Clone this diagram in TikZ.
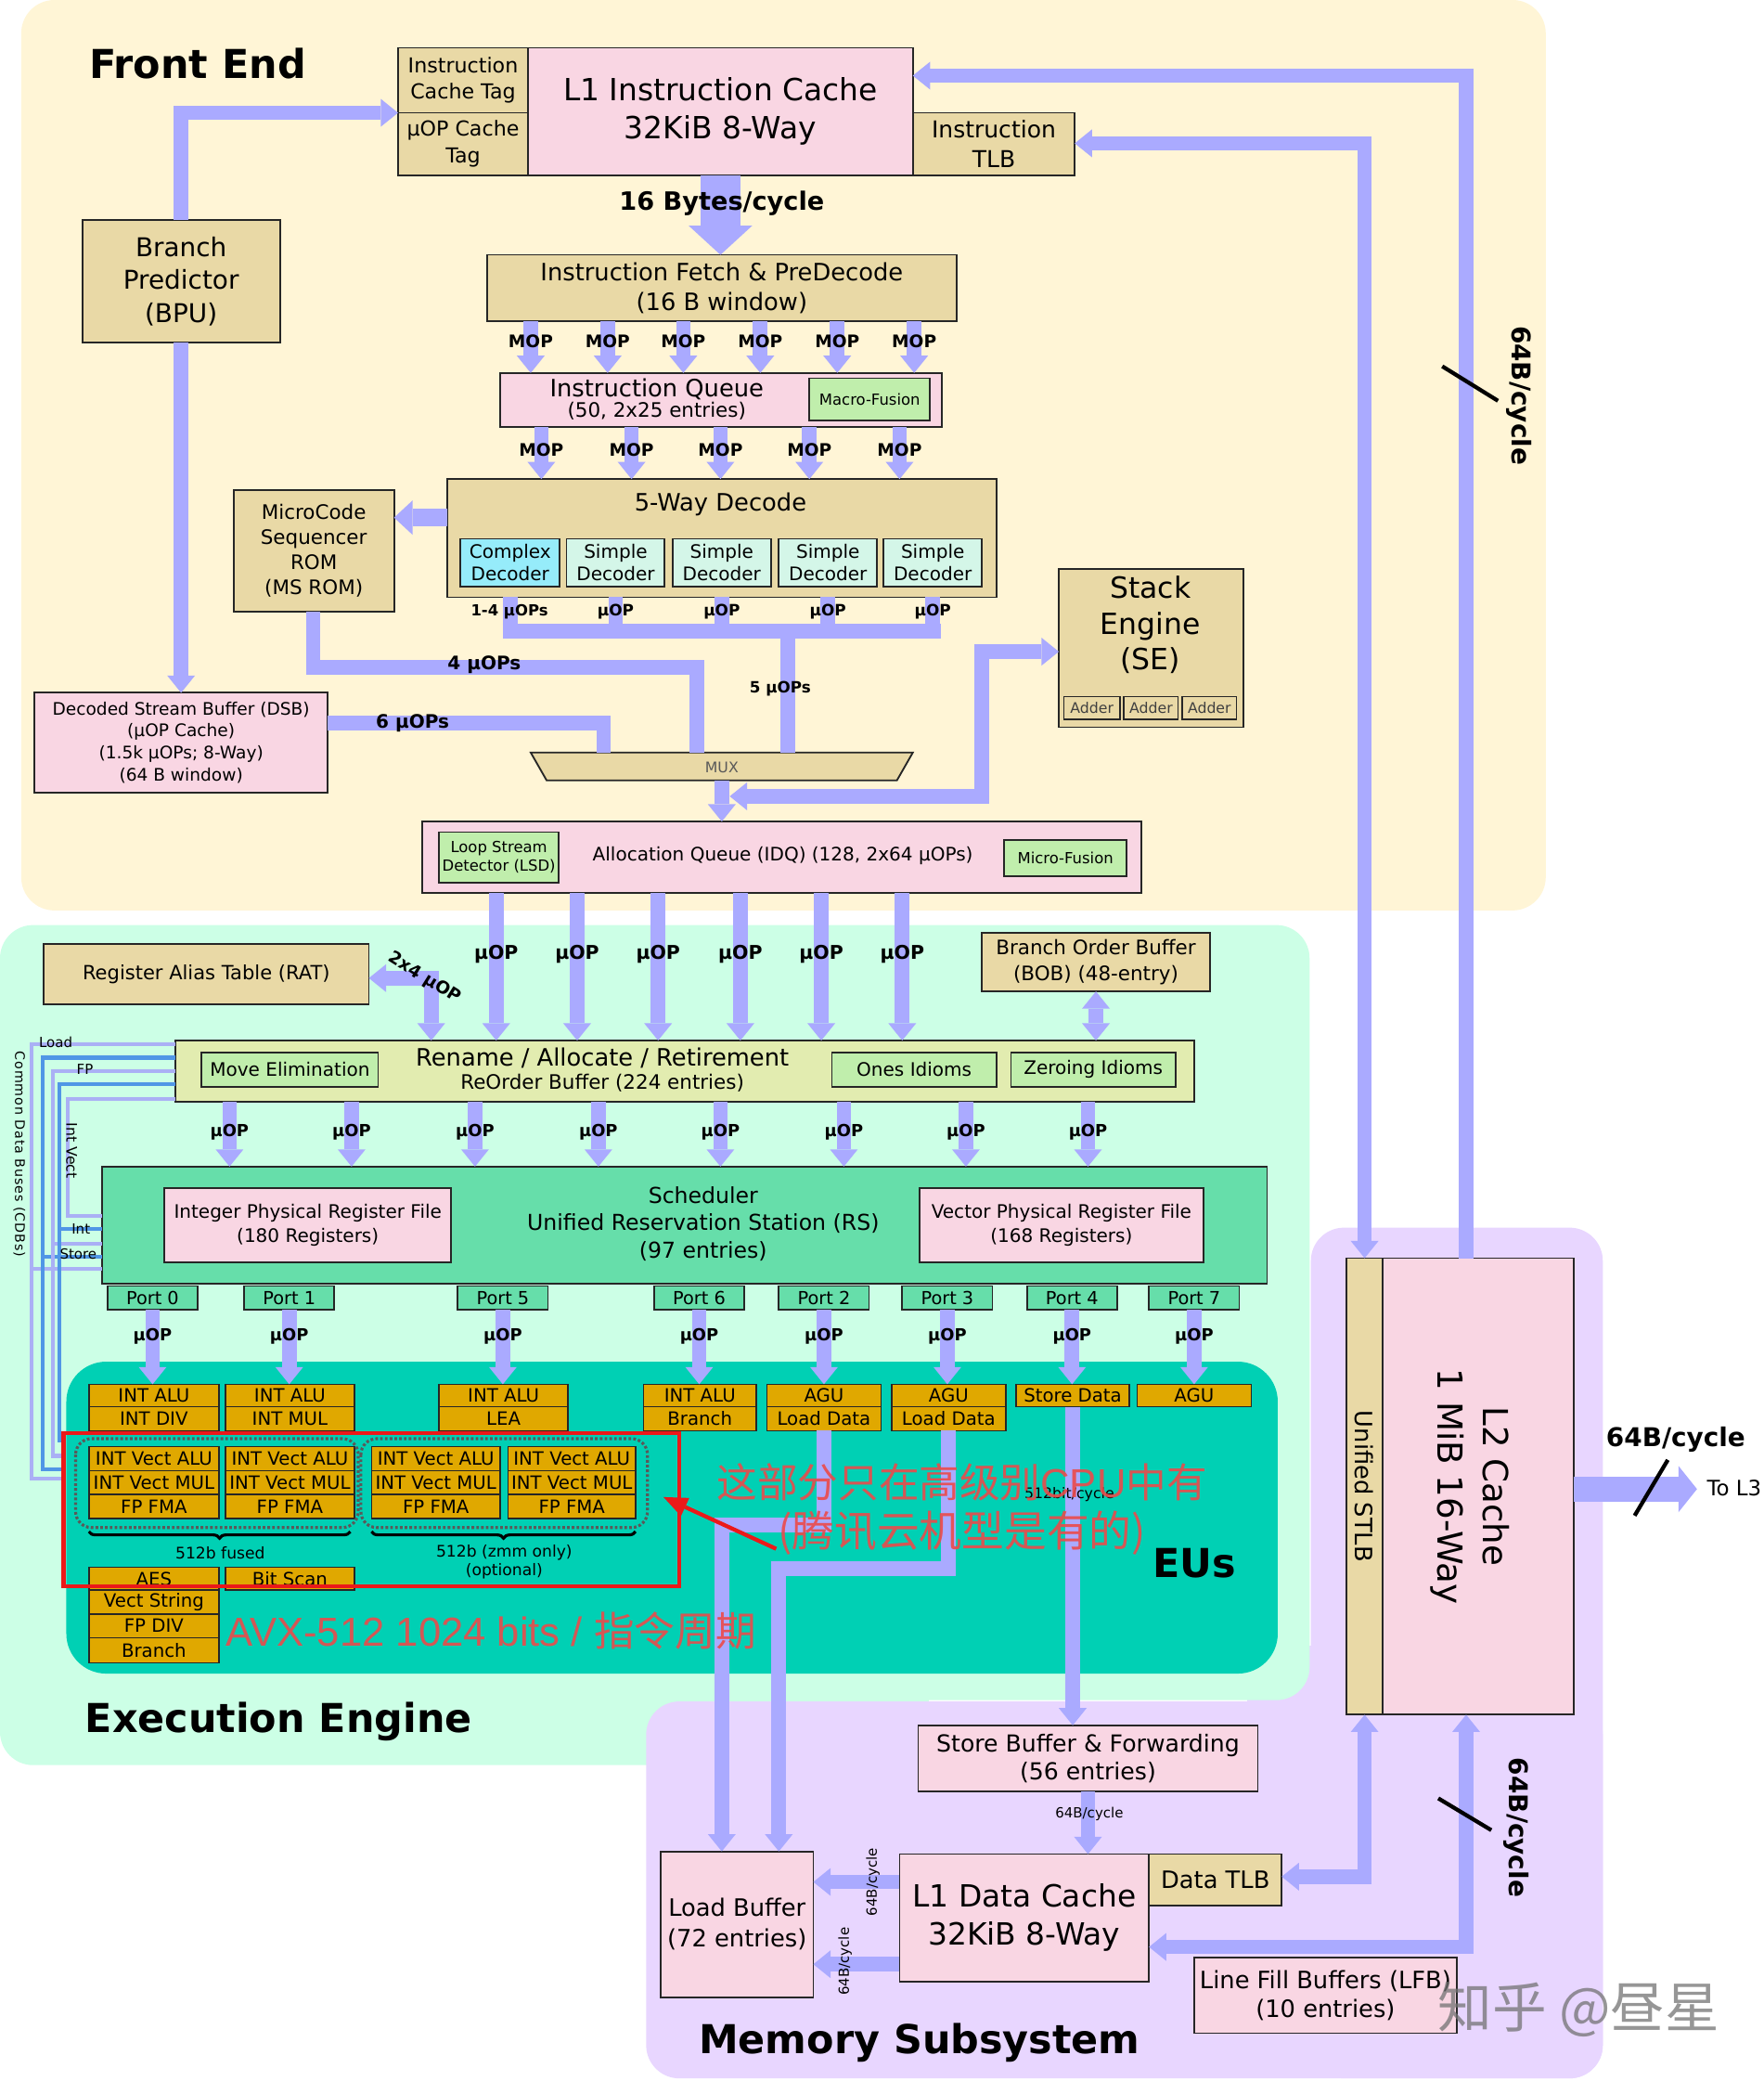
\documentclass[tikz,border=0pt]{standalone}
\usepackage{fontspec}
\setmainfont{DejaVu Sans}
\newfontfamily\cjkf{Noto Sans CJK SC}
\newfontfamily\arialf{Liberation Sans}
\usetikzlibrary{arrows.meta,decorations.pathreplacing,calc}
\definecolor{febg}{RGB}{255,245,214}
\definecolor{exbg}{RGB}{204,255,230}
\definecolor{membg}{RGB}{232,214,255}
\definecolor{tanb}{RGB}{233,217,166}
\definecolor{pinkb}{RGB}{249,214,227}
\definecolor{lgreen}{RGB}{192,238,172}
\definecolor{cyanb}{RGB}{150,236,250}
\definecolor{mint}{RGB}{212,246,232}
\definecolor{robc}{RGB}{226,236,176}
\definecolor{schc}{RGB}{102,222,170}
\definecolor{euteal}{RGB}{0,208,180}
\definecolor{gold}{RGB}{224,168,0}
\definecolor{arrowc}{RGB}{170,170,255}
\definecolor{cdbl}{RGB}{170,176,245}
\definecolor{cdbb}{RGB}{80,150,230}
\definecolor{redb}{RGB}{235,25,25}
\definecolor{redt}{RGB}{236,74,74}
\newcommand\FS[2]{\fontsize{#1}{#2}\selectfont}
\newcommand\RB[7]{\node[#6, minimum width={(#4-#2)*1pt}, minimum height={(#5-#3)*1pt}, anchor=north west] (#1) at (#2,#3) {#7};}
\tikzset{
  tipA/.tip={Triangle[width=21pt,length=13pt,line width=0pt]},
  tipB/.tip={Triangle[width=48pt,length=22pt,line width=0pt]},
  tipC/.tip={Triangle[width=35pt,length=14pt,line width=0pt]},
  tipD/.tip={Triangle[width=26pt,length=14pt,line width=0pt]},
  tipR/.tip={Triangle[width=15pt,length=18pt,line width=0pt]},
}
\begin{document}
\begin{tikzpicture}[x=1pt,y=-1pt,
  box/.style={draw=black!85, line width=1.3pt, inner sep=0pt, outer sep=0pt, align=center},
  lbl/.style={inner sep=0pt, outer sep=0pt, align=center},
  flow/.style={draw=arrowc, line width=11pt},
  arr/.style={flow, -tipA},
  dbl/.style={flow, tipA-tipA},
  mop/.style={lbl, font=\FS{13}{15}\bfseries},
  uop/.style={lbl, font=\FS{12.5}{15}\bfseries},
  eu/.style={box, fill=gold, line width=1.1pt, font=\FS{13.8}{16}},
  cdbL/.style={draw=cdbl, line width=3pt},
  cdbB/.style={draw=cdbb, line width=3pt},
  title/.style={lbl, font=\FS{30}{36}\bfseries},
]
\useasboundingbox (0,0) rectangle (1329,1568);
% ---------------- backgrounds
\fill[febg, rounded corners=25pt] (16,0) rectangle (1165,686);
\fill[membg] (940,1240) rectangle (1000,1300);
\fill[exbg, rounded corners=25pt] (0,697) rectangle (987,1281);
\fill[exbg, rounded corners=25pt] (0,1000) rectangle (700,1330);
\fill[membg, rounded corners=25pt] (988,925) rectangle (1208,1566);
\fill[membg, rounded corners=25pt] (487,1282) rectangle (1208,1566);
\fill[euteal, rounded corners=30pt] (50,1026) rectangle (963,1261);

% ---------------- front end
\node[title] (tfe) at (149,48) {Front End};
\RB{ict}{300}{36}{398}{85}{box, fill=tanb, font=\FS{15.5}{20}}{Instruction\\Cache Tag}
\RB{uct}{300}{85}{398}{132}{box, fill=tanb, font=\FS{15.5}{20}}{µOP Cache\\Tag}
\RB{l1i}{398}{36}{688}{132}{box, fill=pinkb, font=\FS{23}{29}}{L1 Instruction Cache\\32KiB 8-Way}
\RB{itlb}{688}{85}{810}{132}{box, fill=tanb, font=\FS{17.5}{22}}{Instruction\\TLB}
\RB{bpu}{62}{166}{211}{258}{box, fill=tanb, font=\FS{19.5}{25}}{Branch\\Predictor\\(BPU)}
\RB{ifd}{367}{192}{721}{242}{box, fill=tanb, font=\FS{18}{22}}{Instruction Fetch \& PreDecode\\(16 B window)}
\RB{iq}{377}{281}{710}{322}{box, fill=pinkb}{}
\node[lbl, font=\FS{18}{20}] (iqt1) at (495,293) {Instruction Queue};
\node[lbl, font=\FS{15}{18}] (iqt2) at (495,310) {(50, 2x25 entries)};
\RB{mf}{610}{285}{701}{317}{box, fill=lgreen, font=\FS{11.5}{14}}{Macro-Fusion}
\RB{dec}{337}{361}{751}{450}{box, fill=tanb}{}
\node[lbl, font=\FS{18}{22}] (dect) at (543,380) {5-Way Decode};
\RB{cd}{347}{406}{422}{442}{box, fill=cyanb, font=\FS{14}{17}}{Complex\\Decoder}
\RB{sd1}{427}{406}{501}{442}{box, fill=mint, font=\FS{14}{17}}{Simple\\Decoder}
\RB{sd2}{507}{406}{581}{442}{box, fill=mint, font=\FS{14}{17}}{Simple\\Decoder}
\RB{sd3}{587}{406}{661}{442}{box, fill=mint, font=\FS{14}{17}}{Simple\\Decoder}
\RB{sd4}{666}{406}{740}{442}{box, fill=mint, font=\FS{14}{17}}{Simple\\Decoder}
\RB{ms}{176}{369}{297}{461}{box, fill=tanb, font=\FS{15}{19}}{MicroCode\\Sequencer\\ROM\\(MS ROM)}
\RB{dsb}{26}{522}{247}{597}{box, fill=pinkb, font=\FS{13}{16.7}}{Decoded Stream Buffer (DSB)\\(µOP Cache)\\(1.5k µOPs; 8-Way)\\(64 B window)}
\draw[draw=black!85, line width=1.3pt, fill=tanb] (400,567) -- (688,567) -- (676,588) -- (412,588) -- cycle;
\node[lbl, font=\FS{11}{13}, text=black!65] (mux) at (544,578) {MUX};
\coordinate (muxT) at (544,567);
\coordinate (muxB) at (544,588);
\RB{se}{798}{429}{937}{548}{box, fill=tanb}{}
\node[lbl, font=\FS{22}{27}] (set) at (867,471) {Stack\\Engine\\(SE)};
\RB{ad1}{802}{525}{844}{542}{box, fill=tanb, line width=1pt, font=\FS{11}{13}, text=black!75}{Adder}
\RB{ad2}{847}{525}{888}{542}{box, fill=tanb, line width=1pt, font=\FS{11}{13}, text=black!75}{Adder}
\RB{ad3}{891}{525}{932}{542}{box, fill=tanb, line width=1pt, font=\FS{11}{13}, text=black!75}{Adder}
\RB{idq}{318}{619}{860}{673}{box, fill=pinkb}{}
\node[lbl, font=\FS{14}{17}] (idqt) at (590,645) {Allocation Queue (IDQ) (128, 2x64 µOPs)};
\RB{lsd}{331}{627}{421}{665}{box, fill=lgreen, font=\FS{11.5}{14}}{Loop Stream\\Detector (LSD)}
\RB{mfu}{757}{633}{849}{660}{box, fill=lgreen, font=\FS{11.5}{14}}{Micro-Fusion}

% ---------------- execution engine
\node[title] (tee) at (210,1297) {Execution Engine};
\RB{rat}{33}{711}{278}{757}{box, fill=tanb, font=\FS{14.7}{18}}{Register Alias Table (RAT)}
\RB{bob}{740}{703}{912}{747}{box, fill=tanb, font=\FS{15}{19}}{Branch Order Buffer\\(BOB) (48-entry)}
\RB{rob}{132}{784}{900}{830}{box, fill=robc}{}
\node[lbl, font=\FS{18}{22}] (robt1) at (454,797) {Rename / Allocate / Retirement};
\node[lbl, font=\FS{15}{18}] (robt2) at (454,816) {ReOrder Buffer (224 entries)};
\RB{me}{152}{793}{285}{819}{box, fill=lgreen, font=\FS{14}{17}}{Move Elimination}
\RB{oi}{627}{793}{751}{819}{box, fill=lgreen, font=\FS{14}{17}}{Ones Idioms}
\RB{zi}{762}{793}{886}{819}{box, fill=lgreen, font=\FS{14}{17}}{Zeroing Idioms}
\RB{rs}{77}{879}{955}{967}{box, fill=schc}{}
\node[lbl, font=\FS{16.5}{20.5}] (rst) at (530,922) {Scheduler\\Unified Reservation Station (RS)\\(97 entries)};
\RB{iprf}{124}{895}{340}{951}{box, fill=pinkb, font=\FS{14}{18}}{Integer Physical Register File\\(180 Registers)}
\RB{vprf}{693}{895}{907}{951}{box, fill=pinkb, font=\FS{14}{18}}{Vector Physical Register File\\(168 Registers)}
\RB{p0}{81}{969}{149}{987}{box, fill=schc, font=\FS{13.5}{16}}{Port 0}
\RB{p1}{184}{969}{252}{987}{box, fill=schc, font=\FS{13.5}{16}}{Port 1}
\RB{p5}{345}{969}{413}{987}{box, fill=schc, font=\FS{13.5}{16}}{Port 5}
\RB{p6}{493}{969}{561}{987}{box, fill=schc, font=\FS{13.5}{16}}{Port 6}
\RB{p2}{587}{969}{655}{987}{box, fill=schc, font=\FS{13.5}{16}}{Port 2}
\RB{p3}{680}{969}{748}{987}{box, fill=schc, font=\FS{13.5}{16}}{Port 3}
\RB{p4}{774}{969}{842}{987}{box, fill=schc, font=\FS{13.5}{16}}{Port 4}
\RB{p7}{866}{969}{934}{987}{box, fill=schc, font=\FS{13.5}{16}}{Port 7}
% execution units
\RB{a0}{67}{1043}{165}{1060}{eu}{INT ALU}
\RB{b0}{67}{1060}{165}{1078}{eu}{INT DIV}
\RB{a1}{170}{1043}{267}{1060}{eu}{INT ALU}
\RB{b1}{170}{1060}{267}{1078}{eu}{INT MUL}
\RB{a5}{331}{1043}{428}{1060}{eu}{INT ALU}
\RB{b5}{331}{1060}{428}{1078}{eu}{LEA}
\RB{a6}{485}{1043}{570}{1060}{eu}{INT ALU}
\RB{b6}{485}{1060}{570}{1078}{eu}{Branch}
\RB{a2}{578}{1043}{664}{1060}{eu}{AGU}
\RB{b2}{578}{1060}{664}{1078}{eu}{Load Data}
\RB{a3}{672}{1043}{758}{1060}{eu}{AGU}
\RB{b3}{672}{1060}{758}{1078}{eu}{Load Data}
\RB{a4}{766}{1043}{851}{1060}{eu}{Store Data}
\RB{a7}{857}{1043}{943}{1060}{eu}{AGU}
\foreach \c/\xa/\xb in {1/67/165, 2/170/267, 3/280/377, 4/383/479}{
  \RB{va\c}{\xa}{1090}{\xb}{1108}{eu}{INT Vect ALU}
  \RB{vm\c}{\xa}{1108}{\xb}{1126}{eu}{INT Vect MUL}
  \RB{vf\c}{\xa}{1126}{\xb}{1144}{eu}{FP FMA}
}
\RB{aes}{67}{1181}{165}{1198}{eu}{AES}
\RB{vs}{67}{1198}{165}{1216}{eu}{Vect String}
\RB{fdiv}{67}{1216}{165}{1234}{eu}{FP DIV}
\RB{br0}{67}{1234}{165}{1253}{eu}{Branch}
\RB{bs}{170}{1181}{267}{1198}{eu}{Bit Scan}
\draw[black!65, line width=2.2pt, dash pattern=on 2pt off 1.6pt, rounded corners=12pt] (57,1084) rectangle (270,1151);
\draw[black!65, line width=2.2pt, dash pattern=on 2pt off 1.6pt, rounded corners=12pt] (272,1084) rectangle (488,1151);
\draw[decorate, decoration={brace, mirror, amplitude=5pt}, line width=2.2pt] (67,1154) -- (264,1154);
\draw[decorate, decoration={brace, mirror, amplitude=5pt}, line width=2.2pt] (280,1154) -- (479,1154);
\node[lbl, font=\FS{12}{14}] (f512) at (166,1170) {512b fused};
\node[lbl, font=\FS{12}{14}] (z512) at (380,1177) {512b (zmm only)\\(optional)};
\node[lbl, font=\FS{30}{36}\bfseries] (teus) at (900,1178) {EUs};

% ---------------- memory subsystem
\node[title] (tms) at (693,1539) {Memory Subsystem};
\RB{sb}{692}{1300}{948}{1350}{box, fill=pinkb, font=\FS{17.6}{21}}{Store Buffer \& Forwarding\\(56 entries)}
\RB{lb}{498}{1395}{613}{1505}{box, fill=pinkb, font=\FS{18}{23}}{Load Buffer\\(72 entries)}
\RB{l1d}{678}{1397}{866}{1493}{box, fill=pinkb, font=\FS{23}{29}}{L1 Data Cache\\32KiB 8-Way}
\RB{dtlb}{866}{1397}{966}{1436}{box, fill=tanb, font=\FS{18}{22}}{Data TLB}
\RB{lfb}{900}{1475}{1098}{1532}{box, fill=pinkb, font=\FS{18}{22}}{Line Fill Buffers (LFB)\\(10 entries)}
\RB{stlb}{1015}{948}{1042}{1292}{box, fill=tanb}{}
\node[lbl, rotate=-90, font=\FS{18}{22}] (stlbt) at (1028,1120) {Unified STLB};
\RB{l2}{1042}{948}{1186}{1292}{box, fill=pinkb}{}
\node[lbl, rotate=-90, font=\FS{26}{34}] (l2t) at (1108,1120) {L2 Cache\\1 MiB 16-Way};
\coordinate (tol3) at (1279,1122);

% ---------------- connectors: front end
\draw[arr] (bpu.north) |- (ict.south west);
\draw[arr] (bpu.south) -- (bpu.south |- dsb.north);
\draw[draw=arrowc, line width=30pt, -tipB] (l1i.south) -- (l1i.south |- ifd.north);
\foreach \x in {400,458,515,573,631,689}{\draw[arr] (\x,0 |- ifd.south) -- (\x,0 |- iq.north);}
\foreach \x in {408,476,543,610,678}{\draw[arr] (\x,0 |- iq.south) -- (\x,0 |- dec.north);}
\draw[draw=arrowc, line width=13pt, -tipD] (dec.west |- 0,390) -- (ms.east |- 0,390);
\foreach \n in {cd,sd1,sd2,sd3,sd4}{\draw[flow] (\n.south |- dec.south) -- (\n.south |- 0,481);}
\draw[flow] (379,475.5) -- (709,475.5);
\draw[flow] (594,475) -- (594,0 |- muxT);
\draw[flow] (236,0 |- ms.south) |- (525,503) -- (525,0 |- muxT);
\draw[flow] (dsb.east |- 0,545) -| (455,0 |- muxT);
\draw[arr] (muxB) -- (muxB |- idq.north);
\coordinate (seJ) at (550,600);
\draw[dbl] (seJ) -| (740,491) -- (se.west |- 0,491);
\draw[arr] (1105,0 |- l2.north) |- (l1i.east |- 0,57);
\draw[dbl] (itlb.east |- 0,108) -| (stlb.north);
% ---------------- connectors: execution engine
\foreach \x in {374,435,496,558,619,680}{\draw[arr] (\x,0 |- idq.south) -- (\x,0 |- rob.north);}
\draw[dbl] (bob.south) -- (bob.south |- rob.north);
\draw[dbl] (rat.east |- 0,737) -| (325,0 |- rob.north);
\foreach \x in {173,265,358,451,543,636,728,820}{\draw[arr] (\x,0 |- rob.south) -- (\x,0 |- rs.north);}
\foreach \p/\e in {p0/a0,p1/a1,p5/a5,p6/a6,p2/a2,p3/a3,p4/a4,p7/a7}{\draw[arr] (\p.south) -- (\p.south |- \e.north);}
\draw[arr] (b2.south) |- (544,1149) -- (544,0 |- lb.north);
\draw[arr] (b3.south) |- (587,1182) -- (587,0 |- lb.north);
\draw[arr] (a4.south) -- (a4.south |- sb.north);
% common data buses
\draw[cdbL] (rob.west |- 0,787) -| (24,1114) -- (50,1114);
\draw[cdbL] (24,956) -- (rs.west |- 0,956);
\draw[cdbB] (rob.west |- 0,797) -| (32,1107) -- (50,1107);
\draw[cdbB] (32,947) -- (rs.west |- 0,947);
\draw[cdbL] (rob.west |- 0,807) -| (40,1097) -- (50,1097);
\draw[cdbL] (40,937) -- (rs.west |- 0,937);
\draw[cdbB] (rob.west |- 0,817) -| (45,1085) -- (50,1085);
\draw[cdbB] (45,926) -- (rs.west |- 0,926);
\draw[cdbL] (rob.west |- 0,828) -| (51,916) -- (rs.west |- 0,916);
% ---------------- connectors: memory
\draw[arr] (sb.south) -- (sb.south |- l1d.north);
\draw[arr] (l1d.west |- 0,1418) -- (lb.east |- 0,1418);
\draw[arr] (l1d.west |- 0,1480) -- (lb.east |- 0,1480);
\draw[dbl] (dtlb.east |- 0,1414) -| (stlb.south);
\draw[dbl] (l1d.east |- 0,1467) -| (1105,0 |- l2.south);
\draw[draw=arrowc, line width=19pt, -tipC] (l2.east |- tol3) -- (tol3);

% ---------------- labels on connectors
\node[lbl, font=\FS{19}{22}\bfseries] at (544,153) {16 Bytes/cycle};
\foreach \x in {400,458,515,573,631,689}{\node[mop] at (\x,257) {MOP};}
\foreach \x in {408,476,543,610,678}{\node[mop] at (\x,339) {MOP};}
\node[lbl, font=\FS{11.5}{14}\bfseries] at (384,461) {1-4 µOPs};
\foreach \x in {464,544,624,703}{\node[lbl, font=\FS{11.8}{14}\bfseries] at (\x,461) {µOP};}
\node[lbl, font=\FS{14}{17}\bfseries] at (365,501) {4 µOPs};
\node[lbl, font=\FS{14}{17}\bfseries] at (311,545) {6 µOPs};
\node[lbl, font=\FS{11.7}{14}\bfseries] at (588,519) {5 µOPs};
\node[lbl, rotate=-90, font=\FS{19.5}{22}\bfseries] at (1145,298) {64B/cycle};
\draw[line width=3pt] (1087,276) -- (1129,302);
\foreach \x in {374,435,496,558,619,680}{\node[lbl, font=\FS{14.3}{17}\bfseries] at (\x,719) {µOP};}
\node[lbl, rotate=-32, font=\FS{13}{15}\bfseries] at (320,737) {2x4 µOP};
\foreach \x in {173,265,358,451,543,636,728,820}{\node[uop] at (\x,853) {µOP};}
\foreach \p in {p0,p1,p5,p6,p2,p3,p4,p7}{\node[uop] at ($(\p.south)+(0,20)$) {µOP};}
\node[lbl, font=\FS{10.5}{12}] at (42,785) {Load};
\node[lbl, font=\FS{10.5}{12}] at (64,806) {FP};
\node[lbl, rotate=-90, font=\FS{11}{13}] at (54,867) {Int Vect};
\node[lbl, font=\FS{10.5}{12}] at (61,926) {Int};
\node[lbl, font=\FS{10.5}{12}] at (59,945) {Store};
\node[lbl, rotate=-90, font=\FS{10}{12}\addfontfeature{LetterSpace=6}] at (14.5,869.5) {Common Data Buses (CDBs)};
\node[lbl, font=\FS{11}{13}] at (806,1126) {512bit/cycle};
\node[lbl, font=\FS{10.5}{12}] at (821,1367) {64B/cycle};
\node[lbl, rotate=90, font=\FS{10.5}{12}] at (658,1418) {64B/cycle};
\node[lbl, rotate=90, font=\FS{10.5}{12}] at (637,1478) {64B/cycle};
\node[lbl, rotate=-90, font=\FS{19.5}{22}\bfseries] at (1143,1377) {64B/cycle};
\draw[line width=3pt] (1084,1355) -- (1124,1379);
\node[lbl, font=\FS{19.5}{22}\bfseries] at (1263,1085) {64B/cycle};
\draw[line width=3pt] (1232,1142) -- (1257,1100);
\node[lbl, font=\FS{16}{19}] at (1307,1121) {To L3};

% ---------------- red annotations
\draw[redb, line width=3pt] (48,1080) rectangle (512,1195);
\node[lbl, text=redt, text opacity=0.9, font=\cjkf\FS{30.5}{34}] (cn1) at (725,1117) {这部分只在高级别{\arialf CPU}中有};
\node[lbl, text=redt, text opacity=0.9, font=\cjkf\FS{32}{36}] (cn2) at (725,1155) {(腾讯云机型是有的)};
\coordinate (redtail) at (585,1167);
\coordinate (redtip) at (500,1128);
\draw[redb, line width=3pt, -tipR] (redtail) -- (redtip);
\node[lbl, text=redt, text opacity=0.9, font=\cjkf\FS{30.5}{34}] (avx) at (370,1229) {{\arialf AVX-512 1024 bits / }指令周期};
% watermark
\node[lbl, text=black!55, text opacity=0.75, font=\cjkf\FS{41}{46}] (wm) at (1190,1514) {知乎 @昼星};
\end{tikzpicture}
\end{document}
